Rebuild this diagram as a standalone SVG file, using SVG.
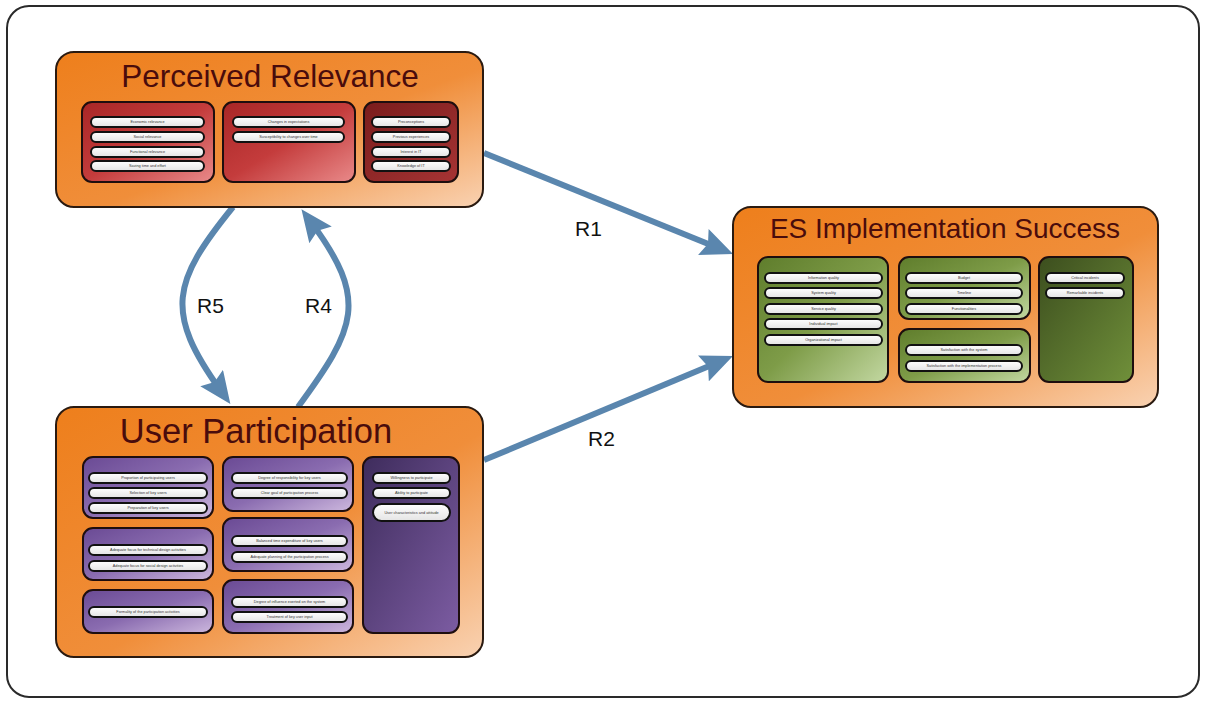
<svg xmlns="http://www.w3.org/2000/svg" width="1205" height="702" viewBox="0 0 1205 702">
<defs>
<linearGradient id="gOrange" x1="0" y1="0" x2="1" y2="1"><stop offset="0" stop-color="#ee7f1c"/><stop offset="0.55" stop-color="#f08e3a"/><stop offset="1" stop-color="#f9d2b2"/></linearGradient>
<linearGradient id="gRed" x1="0" y1="0" x2="1" y2="1"><stop offset="0" stop-color="#a82626"/><stop offset="0.5" stop-color="#c43c3c"/><stop offset="1" stop-color="#e98a8a"/></linearGradient>
<linearGradient id="gRedDark" x1="0" y1="0" x2="1" y2="1"><stop offset="0" stop-color="#7a1c1c"/><stop offset="1" stop-color="#a63434"/></linearGradient>
<linearGradient id="gGreen" x1="0" y1="0" x2="1" y2="1"><stop offset="0" stop-color="#5f7d2c"/><stop offset="0.5" stop-color="#7e9c48"/><stop offset="1" stop-color="#c3d8a2"/></linearGradient>
<linearGradient id="gGreenDark" x1="0" y1="0" x2="1" y2="1"><stop offset="0" stop-color="#3c4e1e"/><stop offset="1" stop-color="#70903a"/></linearGradient>
<linearGradient id="gPurple" x1="0" y1="0" x2="1" y2="1"><stop offset="0" stop-color="#6a4a94"/><stop offset="0.5" stop-color="#8a6cb0"/><stop offset="1" stop-color="#cdb8de"/></linearGradient>
<linearGradient id="gPurpleDark" x1="0" y1="0" x2="1" y2="1"><stop offset="0" stop-color="#3e2c5c"/><stop offset="1" stop-color="#7c5ca2"/></linearGradient>
<linearGradient id="gPill" x1="0" y1="0" x2="0" y2="1"><stop offset="0" stop-color="#ffffff"/><stop offset="1" stop-color="#e4e4e4"/></linearGradient>
<marker id="arrow" markerUnits="userSpaceOnUse" viewBox="0 0 32 28" refX="16" refY="14" markerWidth="32" markerHeight="28" orient="auto">
<path d="M0,0 L32,14 L0,28 L5,14 Z" fill="#5a86ae"/>
</marker>
</defs>
<style>
.frame{fill:#ffffff;stroke:#2a2a2a;stroke-width:2}
.main{fill:url(#gOrange);stroke:#2a1a10;stroke-width:2}
.title{font-family:"Liberation Sans",Arial,sans-serif;fill:#4a0c0c;text-anchor:middle}
.inner{stroke:#1e0e0e;stroke-width:2}
.red{fill:url(#gRed)}
.redd{fill:url(#gRedDark)}
.grn{fill:url(#gGreen)}
.grnd{fill:url(#gGreenDark)}
.pur{fill:url(#gPurple)}
.purd{fill:url(#gPurpleDark)}
.pill{fill:url(#gPill);stroke:#111111;stroke-width:2}
.pt{font-family:"Liberation Sans",Arial,sans-serif;font-size:3.8px;fill:#333333;text-anchor:middle}
.conn{fill:none;stroke:#5a86ae;stroke-width:6;marker-end:url(#arrow)}
.lbl{font-family:"Liberation Sans",Arial,sans-serif;font-size:21px;fill:#111111}
</style>
<rect class="frame" x="7" y="6" width="1192" height="691" rx="22"/>

<g id="connectors">
<path class="conn" d="M484,153 L718.2,248.0"/>
<path class="conn" d="M484,460 L718.2,362.2"/>
<path class="conn" d="M233,207 C172,282 164,312 221,391"/>
<path class="conn" d="M298,407 C356,328 369,300 311,222"/>
<text class="lbl" x="575" y="236">R1</text>
<text class="lbl" x="588" y="446">R2</text>
<text class="lbl" x="197" y="313">R5</text>
<text class="lbl" x="305" y="313">R4</text>
</g>

<g id="perceived-relevance">
<rect class="main" x="56" y="52" width="427" height="155" rx="18"/>
<text class="title" x="270" y="87" font-size="31.5">Perceived Relevance</text>
<g id="pr-1">
<rect class="inner red" x="82" y="102" width="132" height="80" rx="10"/>
<rect class="pill" x="91" y="117" width="113" height="10" rx="5"/><text class="pt" x="147.5" y="123.4">Economic relevance</text>
<rect class="pill" x="91" y="132" width="113" height="10" rx="5"/><text class="pt" x="147.5" y="138.4">Social relevance</text>
<rect class="pill" x="91" y="147" width="113" height="10" rx="5"/><text class="pt" x="147.5" y="153.4">Functional relevance</text>
<rect class="pill" x="91" y="161" width="113" height="10" rx="5"/><text class="pt" x="147.5" y="167.4">Saving time and effort</text>
</g>
<g id="pr-2">
<rect class="inner red" x="223" y="102" width="132" height="80" rx="10"/>
<rect class="pill" x="233" y="117" width="111" height="10" rx="5"/><text class="pt" x="288.5" y="123.4">Changes in expectations</text>
<rect class="pill" x="233" y="132" width="111" height="10" rx="5"/><text class="pt" x="288.5" y="138.4">Susceptibility to changes over time</text>
</g>
<g id="pr-3">
<rect class="inner redd" x="364" y="102" width="94" height="80" rx="10"/>
<rect class="pill" x="372" y="117" width="78" height="10" rx="5"/><text class="pt" x="411" y="123.4">Preconceptions</text>
<rect class="pill" x="372" y="132" width="78" height="10" rx="5"/><text class="pt" x="411" y="138.4">Previous experiences</text>
<rect class="pill" x="372" y="147" width="78" height="10" rx="5"/><text class="pt" x="411" y="153.4">Interest in IT</text>
<rect class="pill" x="372" y="161" width="78" height="10" rx="5"/><text class="pt" x="411" y="167.4">Knowledge of IT</text>
</g>
</g>

<g id="es-implementation-success">
<rect class="main" x="733" y="207" width="425" height="200" rx="18"/>
<text class="title" x="945" y="238" font-size="28">ES Implementation Success</text>
<g id="es-1">
<rect class="inner grn" x="758" y="257" width="130" height="125" rx="10"/>
<rect class="pill" x="765" y="273" width="117" height="10" rx="5"/><text class="pt" x="823.5" y="279.4">Information quality</text>
<rect class="pill" x="765" y="288" width="117" height="10" rx="5"/><text class="pt" x="823.5" y="294.4">System quality</text>
<rect class="pill" x="765" y="304" width="117" height="10" rx="5"/><text class="pt" x="823.5" y="310.4">Service quality</text>
<rect class="pill" x="765" y="319" width="117" height="10" rx="5"/><text class="pt" x="823.5" y="325.4">Individual impact</text>
<rect class="pill" x="765" y="335" width="117" height="10" rx="5"/><text class="pt" x="823.5" y="341.4">Organizational impact</text>
</g>
<g id="es-2">
<rect class="inner grn" x="899" y="257" width="131" height="62" rx="10"/>
<rect class="pill" x="906" y="273" width="116" height="10" rx="5"/><text class="pt" x="964" y="279.4">Budget</text>
<rect class="pill" x="906" y="288" width="116" height="10" rx="5"/><text class="pt" x="964" y="294.4">Timeline</text>
<rect class="pill" x="906" y="304" width="116" height="10" rx="5"/><text class="pt" x="964" y="310.4">Functionalities</text>
</g>
<g id="es-3">
<rect class="inner grn" x="899" y="329" width="131" height="53" rx="10"/>
<rect class="pill" x="906" y="345" width="116" height="10" rx="5"/><text class="pt" x="964" y="351.4">Satisfaction with the system</text>
<rect class="pill" x="906" y="361" width="116" height="10" rx="5"/><text class="pt" x="964" y="367.4">Satisfaction with the implementation process</text>
</g>
<g id="es-4">
<rect class="inner grnd" x="1039" y="257" width="94" height="125" rx="10"/>
<rect class="pill" x="1046" y="273" width="78" height="10" rx="5"/><text class="pt" x="1085" y="279.4">Critical incidents</text>
<rect class="pill" x="1046" y="288" width="78" height="10" rx="5"/><text class="pt" x="1085" y="294.4">Remarkable incidents</text>
</g>
</g>

<g id="user-participation">
<rect class="main" x="56" y="407" width="427" height="250" rx="18"/>
<text class="title" x="256" y="443" font-size="34.5">User Participation</text>
<g id="up-1">
<rect class="inner pur" x="83" y="457" width="130" height="61" rx="10"/>
<rect class="pill" x="89" y="473" width="118" height="10" rx="5"/><text class="pt" x="148" y="479.4">Proportion of participating users</text>
<rect class="pill" x="89" y="488" width="118" height="10" rx="5"/><text class="pt" x="148" y="494.4">Selection of key users</text>
<rect class="pill" x="89" y="503" width="118" height="10" rx="5"/><text class="pt" x="148" y="509.4">Preparation of key users</text>
</g>
<g id="up-2">
<rect class="inner pur" x="223" y="457" width="130" height="54" rx="10"/>
<rect class="pill" x="232" y="473" width="115" height="10" rx="5"/><text class="pt" x="289.5" y="479.4">Degree of responsibility for key users</text>
<rect class="pill" x="232" y="488" width="115" height="10" rx="5"/><text class="pt" x="289.5" y="494.4">Clear goal of participation process</text>
</g>
<g id="up-3">
<rect class="inner purd" x="363" y="457" width="96" height="176" rx="10"/>
<rect class="pill" x="373" y="473" width="77" height="10" rx="5"/><text class="pt" x="411.5" y="479.4">Willingness to participate</text>
<rect class="pill" x="373" y="488" width="77" height="10" rx="5"/><text class="pt" x="411.5" y="494.4">Ability to participate</text>
<rect class="pill" x="373" y="504" width="77" height="17" rx="8.5"/><text class="pt" x="411.5" y="513.9">User characteristics and attitude</text>
</g>
<g id="up-4">
<rect class="inner pur" x="83" y="528" width="130" height="52" rx="10"/>
<rect class="pill" x="89" y="545" width="118" height="10" rx="5"/><text class="pt" x="148" y="551.4">Adequate focus for technical design activities</text>
<rect class="pill" x="89" y="561" width="118" height="10" rx="5"/><text class="pt" x="148" y="567.4">Adequate focus for social design activities</text>
</g>
<g id="up-5">
<rect class="inner pur" x="223" y="518" width="130" height="53" rx="10"/>
<rect class="pill" x="232" y="536" width="115" height="10" rx="5"/><text class="pt" x="289.5" y="542.4">Balanced time expenditure of key users</text>
<rect class="pill" x="232" y="552" width="115" height="10" rx="5"/><text class="pt" x="289.5" y="558.4">Adequate planning of the participation process</text>
</g>
<g id="up-6">
<rect class="inner pur" x="83" y="590" width="130" height="43" rx="10"/>
<rect class="pill" x="89" y="607" width="118" height="10" rx="5"/><text class="pt" x="148" y="613.4">Formality of the participation activities</text>
</g>
<g id="up-7">
<rect class="inner pur" x="223" y="580" width="130" height="53" rx="10"/>
<rect class="pill" x="232" y="597" width="115" height="10" rx="5"/><text class="pt" x="289.5" y="603.4">Degree of  influence exerted on the system</text>
<rect class="pill" x="232" y="612" width="115" height="10" rx="5"/><text class="pt" x="289.5" y="618.4">Treatment of key user input</text>
</g>
</g>
</svg>
